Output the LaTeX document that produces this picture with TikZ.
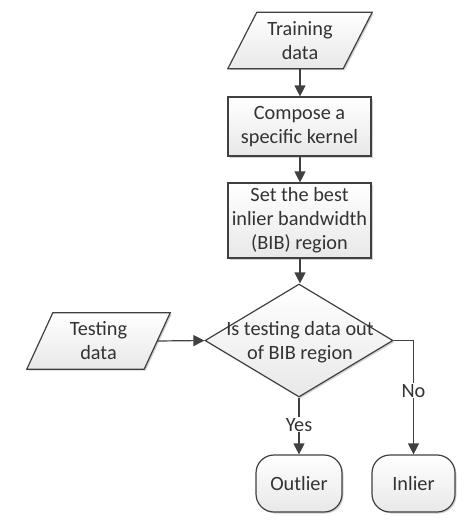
\documentclass[tikz,border=0pt]{standalone}
\usepackage{fontspec}
\setmainfont{Carlito}
\usetikzlibrary{shapes.geometric,arrows.meta,shadows}
\definecolor{lc}{HTML}{404040}
\definecolor{tc}{HTML}{333333}
\tikzset{
  shade box/.style={top color=white, bottom color=black!9, draw=lc, line width=1.2pt,
     drop shadow={shadow xshift=1.5pt, shadow yshift=-1.5pt, fill=black, opacity=0.18}},
  procbox/.style={shade box, rectangle, minimum width=143pt, inner sep=0pt, align=center, text=tc},
  iobox/.style={rectangle, minimum width=115pt, minimum height=56pt, inner sep=0pt, align=center, text=tc},
  termbox/.style={shade box, rectangle, rounded corners=18pt, minimum height=57pt, inner sep=0pt, align=center, text=tc},
  decbox/.style={shade box, diamond, minimum width=188pt, minimum height=113pt, aspect=1.66, inner sep=0pt},
  conn/.style={draw=lc, line width=1.2pt, -{Triangle[length=11pt,width=11pt]}},
  lbl/.style={fill=white, inner sep=1pt, text=tc}
}
\begin{document}
\begin{tikzpicture}[x=1pt,y=-1pt, font=\fontsize{20.3}{24}\selectfont]
\useasboundingbox (0,0) rectangle (470,527);
% training data
\node[iobox] (train) at (300,40.5) {};
\draw[shade box] ([xshift=14.5pt]train.north west) -- ([xshift=14.5pt]train.north east)
   -- ([xshift=-14.5pt]train.south east) -- ([xshift=-14.5pt]train.south west) -- cycle;
\node[iobox] (trainT) at (train.center) {Training\\data};
% compose
\node[procbox, minimum height=59pt] (comp) at (299.5,126.5) {Compose a\\specific kernel};
% set
\node[procbox, minimum height=75pt] (set) at (299.5,220.5) {Set the best\\inlier bandwidth\\(BIB) region};
% decision
\node[decbox] (dec) at (299,340.5) {};
\node[align=center, text=tc, inner sep=0pt] (decT) at (300,342) {Is testing data out\\of BIB region};
% testing data
\node[iobox, minimum width=117pt] (test) at (98.5,341) {};
\draw[shade box] ([xshift=13pt]test.north west) -- ([xshift=13pt]test.north east)
   -- ([xshift=-13pt]test.south east) -- ([xshift=-13pt]test.south west) -- cycle;
\node[iobox] (testT) at (test.center) {Testing\\data};
% terminators
\node[termbox, minimum width=86pt] (out) at (299,483.5) {Outlier};
\node[termbox, minimum width=83pt] (in) at (413.5,483.5) {Inlier};
% connectors
\draw[conn] (train.south) -- (train.south |- comp.north);
\draw[conn] (comp.south -| train.south) -- (train.south |- set.north);
\draw[conn] (set.south -| train.south) -- (train.south |- dec.north);
\draw[conn] (test.east) -- (dec.west);
\draw[conn] (dec.south) -- node[lbl, pos=0.48] (yes) {Yes} (dec.south |- out.north);
\draw[conn] (dec.east) -| node[lbl, pos=0.72] (no) {No} (in.north);
\end{tikzpicture}
\end{document}
